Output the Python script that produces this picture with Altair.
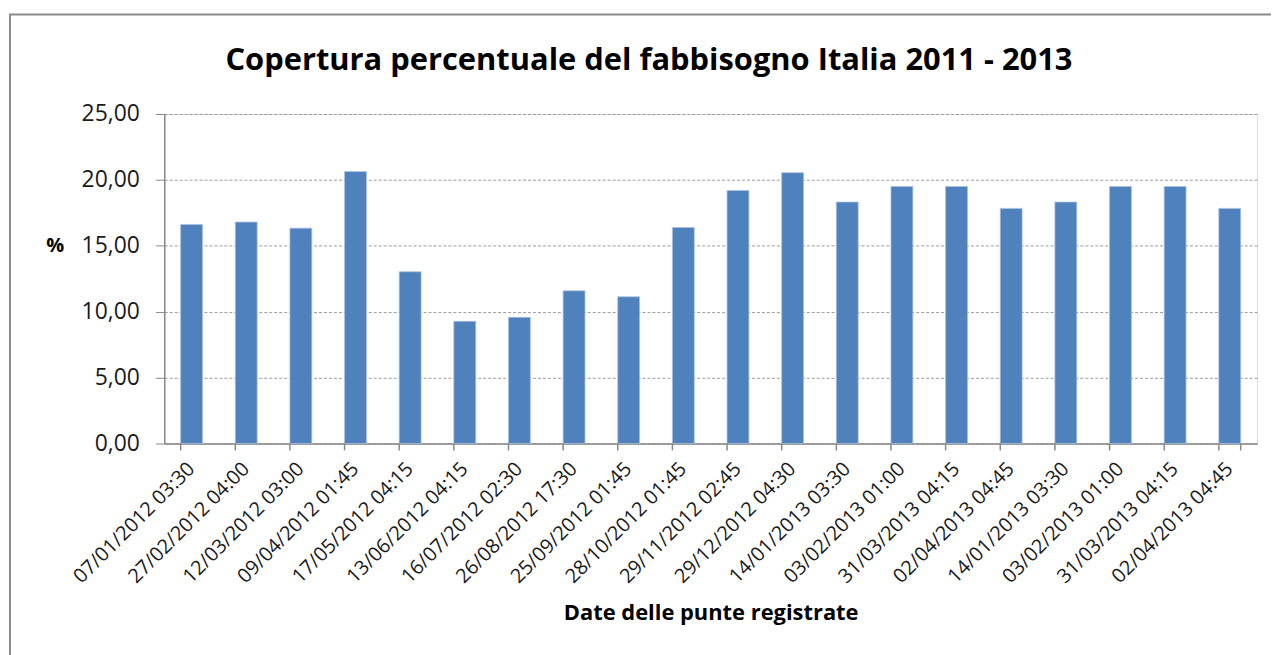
import altair as alt
import pandas as pd

labels = [
    "07/01/2012 03:30", "27/02/2012 04:00", "12/03/2012 03:00", "09/04/2012 01:45",
    "17/05/2012 04:15", "13/06/2012 04:15", "16/07/2012 02:30", "26/08/2012 17:30",
    "25/09/2012 01:45", "28/10/2012 01:45", "29/11/2012 02:45", "29/12/2012 04:30",
    "14/01/2013 03:30", "03/02/2013 01:00", "31/03/2013 04:15", "02/04/2013 04:45",
    "14/01/2013 03:30", "03/02/2013 01:00", "31/03/2013 04:15", "02/04/2013 04:45",
]
values = [
    16.62, 16.80, 16.34, 20.63, 13.03, 9.27, 9.57, 11.58, 11.13, 16.39,
    19.20, 20.55, 18.32, 19.50, 19.50, 17.84, 18.32, 19.50, 19.50, 17.84,
]
y_ticks = [0, 5, 10, 15, 20, 25]

df = pd.DataFrame({"idx": list(range(len(labels))), "label": labels, "value": values})

W, H = 1098, 331
FONT = "Open Sans"
label_expr = "[" + ",".join("'" + l + "'" for l in labels) + "][datum.value]"

xenc = alt.X(
    "idx:O",
    sort=None,
    scale=alt.Scale(paddingInner=0.6, paddingOuter=0.3),
    axis=alt.Axis(
        title="Date delle punte registrate",
        labelExpr=label_expr,
        labelAngle=-45,
        labelAlign="right",
        labelBaseline="middle",
        labelFont=FONT,
        labelFontSize=20,
        labelColor="#1a1a1a",
        labelPadding=22,
        ticks=False,
        domainColor="#888888",
        domainWidth=1.5,
        titleFont=FONT,
        titleFontSize=22,
        titleFontWeight="bold",
        titleColor="#000000",
        titlePadding=16,
    ),
)

bars = alt.Chart(df).mark_bar(color="#4F81BD", stroke="#a9bfe0", strokeWidth=0.8).encode(
    x=xenc,
    y=alt.Y(
        "value:Q",
        scale=alt.Scale(domain=[0, 25]),
        axis=alt.Axis(
            values=y_ticks,
            labelExpr="replace(format(datum.value, '.2f'), '.', ',')",
            title="%",
            titleAngle=0,
            titleX=-110,
            titleY=132,
            titleAlign="center",
            titleBaseline="middle",
            titleFont=FONT,
            titleFontSize=20,
            titleFontWeight="bold",
            titleColor="#000000",
            labelFont=FONT,
            labelFontSize=23,
            labelColor="#1a1a1a",
            labelPadding=16,
            tickSize=9,
            tickColor="#888888",
            domainColor="#888888",
            domainWidth=1.5,
            grid=True,
            gridColor="#9a9a9a",
            gridDash=[3, 2],
            gridWidth=1,
        ),
    ),
)

ticks_start = alt.Chart(df).mark_rule(color="#888888", strokeWidth=1.5).encode(
    x=alt.X("idx:O", sort=None, bandPosition=0),
    y=alt.value(H),
    y2=alt.value(H + 7),
)
ticks_end = alt.Chart(df[df["idx"] == len(labels) - 1]).mark_rule(color="#888888", strokeWidth=1.5).encode(
    x=alt.X("idx:O", sort=None, bandPosition=1),
    y=alt.value(H),
    y2=alt.value(H + 7),
)

frame = alt.Chart(pd.DataFrame({"k": [0]})).mark_rect(
    fill=None, stroke="#8a8a8a", strokeWidth=2
).encode(
    x=alt.value(-155), x2=alt.value(W + 60),
    y=alt.value(-100), y2=alt.value(H + 260),
)

chart = alt.layer(frame, bars, ticks_start, ticks_end).properties(
    width=W,
    height=H,
    title=alt.TitleParams(
        "Copertura percentuale del fabbisogno Italia 2011 - 2013",
        font=FONT,
        fontSize=31,
        fontWeight="bold",
        color="#000000",
        anchor="middle",
        baseline="alphabetic",
        dx=-62,
        offset=-88,
    ),
    autosize=alt.AutoSizeParams(type="none"),
    padding={"left": 157, "top": 105, "right": 14, "bottom": 211},
).configure_view(stroke=None).configure(background="white")

chart.save("out.html", embed_options={"renderer": "svg", "actions": False})
